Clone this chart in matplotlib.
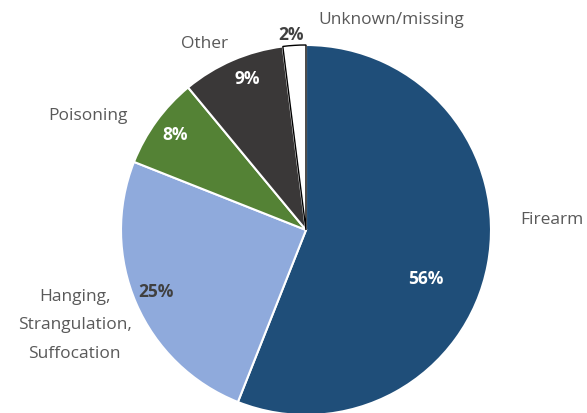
import matplotlib.pyplot as plt

categories = ['Firearm', 'Hanging,\nStrangulation,\nSuffocation', 'Poisoning', 'Other', 'Unknown/missing']
values = [56, 25, 8, 9, 2]
pct_labels = ['56%', '25%', '8%', '9%', '2%']
colors = ['#1F4E79', '#8FAADC', '#548235', '#3A3838', '#FFFFFF']
pct_colors = ['white', '#404040', 'white', 'white', '#404040']

# label placement in radius units (layout only)
label_pos = [(1.33, 0.06), (-1.25, -0.51), (-1.18, 0.62), (-0.55, 1.01), (0.46, 1.14)]
pct_pos = [(0.65, -0.26), (-0.81, -0.33), (-0.71, 0.52), (-0.32, 0.82), (-0.08, 1.06)]

plt.rcParams['font.family'] = ['Open Sans', 'DejaVu Sans']

fig = plt.figure(figsize=(5.87, 4.14), dpi=100)
W, H = 587, 414
cx, cy, r = 306, 414 - 231, 185
ax = fig.add_axes([(cx - r) / W, (cy - r) / H, 2 * r / W, 2 * r / H])

wedges, _ = ax.pie(values, colors=colors, startangle=90, counterclock=False,
                   radius=1, wedgeprops=dict(edgecolor='white', linewidth=1.5))
wedges[-1].set_edgecolor('black')
wedges[-1].set_linewidth(1)
wedges[-1].set_zorder(3)

for name, (x, y) in zip(categories, label_pos):
    ax.text(x, y, name, ha='center', va='center', fontsize=12.5, color='#595959',
            linespacing=2.05)
for p, (x, y), c in zip(pct_labels, pct_pos, pct_colors):
    ax.text(x, y, p, ha='center', va='center', fontsize=12.5, color=c, fontweight='bold')

ax.set_xlim(-1, 1)
ax.set_ylim(-1, 1)
ax.set_aspect('equal')
ax.axis('off')

fig.savefig('out.png', dpi=100)
